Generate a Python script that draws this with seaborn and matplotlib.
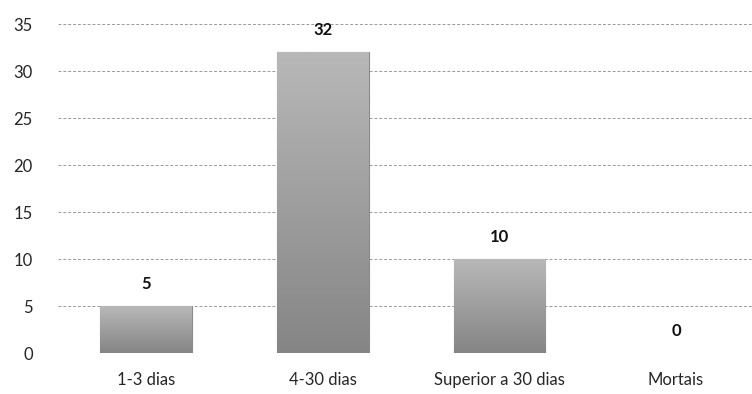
import numpy as np
import pandas as pd
import matplotlib
matplotlib.use("Agg")
import matplotlib.pyplot as plt
import seaborn as sns

categories = ["1-3 dias", "4-30 dias", "Superior a 30 dias", "Mortais"]
values = [5, 32, 10, 0]
y_ticks = [0, 5, 10, 15, 20, 25, 30, 35]

sns.set_theme(style="white")
plt.rcParams["font.family"] = ["Lato", "DejaVu Sans"]

df = pd.DataFrame({"categoria": categories, "valor": values})

fig = plt.figure(figsize=(7.52, 3.94), dpi=100)
ax = fig.add_axes([0.077, 0.104, 0.923, 0.835])

sns.barplot(data=df, x="categoria", y="valor", color="#9c9c9c",
            width=0.52, ax=ax, saturation=1, edgecolor="#8a8a8a", linewidth=0.8)

# vertical gray gradient inside each bar, lighter toward the top
grad = np.linspace(0, 1, 256).reshape(-1, 1)
cmap = matplotlib.colors.LinearSegmentedColormap.from_list("g", ["#858585", "#b8b8b8"])
for patch in ax.patches:
    h = patch.get_height()
    if h <= 0:
        patch.set_visible(False)
        continue
    x0 = patch.get_x()
    w = patch.get_width()
    im = ax.imshow(grad, extent=[x0, x0 + w, 0, h], origin="lower", cmap=cmap,
                   aspect="auto", zorder=patch.get_zorder() + 0.1)
    im.set_clip_path(patch)

ax.set_ylim(0, 35)
ax.set_xlim(-0.5, 3.43)
ax.set_yticks(y_ticks)
ax.yaxis.grid(True, linestyle=(0, (3, 2)), color="#9a9a9a", linewidth=0.7)
ax.set_axisbelow(True)
for s in ax.spines.values():
    s.set_visible(False)
ax.set_xlabel("")
ax.set_ylabel("")
ax.tick_params(axis="y", length=0, pad=18, labelsize=12)
ax.tick_params(axis="x", length=0, pad=14, labelsize=12)

for i, v in enumerate(values):
    ax.annotate(str(v), (i, v), xytext=(0, 16), textcoords="offset points",
                ha="center", va="center", fontsize=12, fontweight="bold", color="#111111")

fig.savefig("out.png", dpi=100)
